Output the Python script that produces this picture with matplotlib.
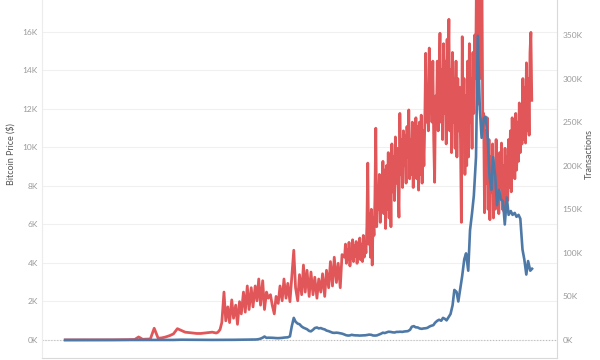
import numpy as np
import matplotlib
matplotlib.use('Agg')
import matplotlib.pyplot as plt
import matplotlib.ticker as mticker
import pandas as pd

plt.rcParams['font.family'] = ['Lato', 'DejaVu Sans']

# price: monthly 2009 - Mar 2012, then twice a month Apr 2012 - Jan 2019
dates_px = list(pd.date_range('2009-01-01', '2012-03-01', freq='MS')) + \
           list(pd.date_range('2012-04-01', '2019-01-15', freq='SMS'))
# transactions: monthly, twice a month, then weekly from 2015
dates_tx = list(pd.date_range('2009-01-01', '2012-03-01', freq='MS')) + \
           list(pd.date_range('2012-04-01', '2014-12-15', freq='SMS')) + \
           list(pd.date_range('2015-01-04', '2019-01-13', freq='7D'))

# transactions per day (thousands)
tx_early = [0.1, 0.1, 0.1, 0.1, 0.1, 0.1, 0.1, 0.1, 0.1, 0.2, 0.2, 0.2,
            0.2, 0.3, 0.3, 0.3, 0.4, 0.5, 0.6, 3.5, 0.8, 1.0, 1.2, 13.5,
            2.0, 2.5, 3.5, 5.0, 7.0, 13.0, 11.0, 9.0, 8.5, 8.0, 7.5, 7.5,
            8.0, 8.5, 9.0]
tx_2012 = [8, 9, 12, 20, 55, 22, 38, 20, 46, 25, 40, 18, 44, 30, 55, 32, 62, 35]
tx_2013 = [60, 38, 62, 45, 70, 40, 68, 35, 55, 48, 52, 40,
           30, 50, 42, 62, 45, 70, 48, 65, 44, 72, 103, 60]
tx_2014 = [45, 75, 52, 86, 55, 80, 50, 78, 52, 72, 48, 70,
           55, 76, 50, 80, 60, 90, 62, 95, 66, 88, 60, 98]
# weekly
tx_2015 = [95, 110, 88, 104, 92, 112, 85, 100, 94, 115, 90, 108, 96,
           113, 88, 105, 97, 117, 92, 110, 90, 120, 95, 112, 100, 130,
           203, 110, 145, 95, 150, 86, 140, 120, 160, 243, 130, 175, 150,
           190, 135, 180, 160, 205, 145, 195, 128, 200, 150, 215, 140, 210]
tx_2016 = [130, 225, 170, 210, 160, 233, 180, 220, 175, 141, 260, 190, 230,
           175, 240, 200, 235, 180, 245, 210, 264, 185, 230, 190, 250, 175,
           240, 200, 255, 185, 245, 172, 250, 190, 258, 180, 240, 200, 250,
           329, 250, 290, 240, 335, 260, 300, 250, 320, 230, 181, 280, 250]
tx_2017 = [320, 240, 300, 352, 250, 310, 230, 340, 260, 320, 225, 345, 300,
           368, 240, 310, 215, 330, 250, 300, 220, 320, 210, 300, 240, 290,
           230, 135, 348, 250, 300, 190, 280, 200, 320, 210, 340, 250, 300,
           220, 330, 260, 350, 300, 420, 270, 430, 380, 420, 300, 420, 250]
tx_2018 = [260, 146, 240, 180, 255, 150, 230, 138, 210, 170, 225, 140, 200,
           150, 230, 160, 210, 145, 215, 175, 226, 150, 200, 147, 220, 165,
           210, 160, 230, 175, 240, 170, 255, 190, 230, 185, 260, 195, 250,
           205, 272, 215, 260, 225, 300, 230, 290, 226, 318, 240, 300, 235]
tx_2019 = [330, 353, 275]
transactions = np.array(tx_early + tx_2012 + tx_2013 + tx_2014 + tx_2015 +
                        tx_2016 + tx_2017 + tx_2018 + tx_2019) * 1000

# bitcoin price ($)
px_early = [0, 0, 0, 0, 0, 0, 0, 0, 0, 0, 0, 0,
            0.05, 0.06, 0.06, 0.07, 0.06, 0.05, 0.07, 0.07, 0.06, 0.1, 0.2, 0.3,
            0.3, 0.9, 0.9, 0.8, 3.5, 9, 15, 13, 8, 5, 3, 3,
            6, 5, 5]
px_2012 = [5, 5, 5, 5, 6, 6, 7, 7, 9, 10, 11, 10, 12, 11, 11, 12, 13, 13]
px_2013 = [14, 18, 25, 30, 45, 70, 120, 180, 110, 120, 120, 115,
           105, 100, 95, 100, 110, 125, 130, 140, 190, 700, 1150, 950]
px_2014 = [850, 820, 700, 640, 600, 560, 470, 450, 530, 620, 650, 600,
           620, 580, 550, 490, 460, 420, 380, 370, 380, 370, 350, 330]
px_2015 = [290, 250, 230, 240, 270, 250, 240, 240, 230, 235, 240, 245,
           260, 280, 270, 235, 230, 240, 280, 320, 380, 360, 400, 430]
px_2016 = [420, 400, 390, 420, 420, 430, 420, 440, 450, 460, 530, 690,
           720, 660, 650, 600, 580, 600, 610, 630, 700, 740, 770, 900]
px_2017 = [1000, 1050, 1000, 1150, 1100, 1020, 1200, 1350, 1800, 2600, 2500, 2000,
           2700, 3300, 4200, 4500, 3600, 5700, 6600, 7500, 9500, 15800, 12000, 10500]
px_2018 = [11500, 11600, 10500, 8500, 7800, 9500, 8500, 7000, 7800, 7300, 7200, 6000,
           7400, 6500, 6700, 6500, 6600, 6400, 6500, 6300, 4700, 4200, 3400, 4100]
px_2019 = [3600, 3700]
price = np.array(px_early + px_2012 + px_2013 + px_2014 + px_2015 +
                 px_2016 + px_2017 + px_2018 + px_2019)

price_ticks = np.arange(0, 16001, 2000)
tx_ticks = np.arange(0, 350001, 50000)

fig = plt.figure(figsize=(6, 3.6), dpi=100)
ax = fig.add_axes([42/600, 2/360, 515/600, 358/360])
ax2 = ax.twinx()
ax3 = ax.twinx()

xlim = (pd.Timestamp('2008-07-03'), pd.Timestamp('2019-07-30'))
price_lim = (-935, 17660)
tx_lim = (-20650, 390150)

# grid and axes frame on the bottom axes
ax.set_xlim(*xlim)
ax.set_ylim(*price_lim)
ax.set_yticks(price_ticks)
ax.yaxis.set_major_formatter(mticker.FuncFormatter(lambda v, p: '%dK' % (v/1000)))
ax.grid(axis='y', color='#f0f0f0', linewidth=0.8)
ax.grid(axis='x', visible=False)
ax.axhline(0, color='#bdbdbd', linestyle=':', linewidth=0.8)
ax.set_xticks([])
ax.tick_params(axis='y', length=0, pad=3, labelsize=6, labelcolor='#9a9a9a')
ax.spines['top'].set_visible(False)
ax.spines['right'].set_visible(False)
ax.spines['left'].set_color('#ececec')
ax.spines['bottom'].set_color('#d9d9d9')
ax.set_axisbelow(True)

# transactions (right axis)
ax2.plot(dates_tx, transactions, color='#e15759', linewidth=2.0)
ax2.set_xlim(*xlim)
ax2.set_ylim(*tx_lim)
ax2.set_yticks(tx_ticks)
ax2.yaxis.set_major_formatter(mticker.FuncFormatter(lambda v, p: '%dK' % (v/1000)))
ax2.tick_params(axis='y', length=0, pad=4, labelsize=6, labelcolor='#9a9a9a')
for s in ['top', 'left', 'bottom']:
    ax2.spines[s].set_visible(False)
ax2.spines['right'].set_color('#d9d9d9')

# price on top of transactions
ax3.plot(dates_px, price, color='#4e79a7', linewidth=1.9)
ax3.set_xlim(*xlim)
ax3.set_ylim(*price_lim)
ax3.set_yticks([])
ax3.axis('off')

fig.text(11/600, 1 - 154/360, 'Bitcoin Price ($)', rotation=90, ha='center', va='center',
         fontsize=6.5, color='#555555')
fig.text(589/600, 1 - 154/360, 'Transactions', rotation=90, ha='center', va='center',
         fontsize=6.5, color='#555555')

fig.savefig('out.png', dpi=100)
